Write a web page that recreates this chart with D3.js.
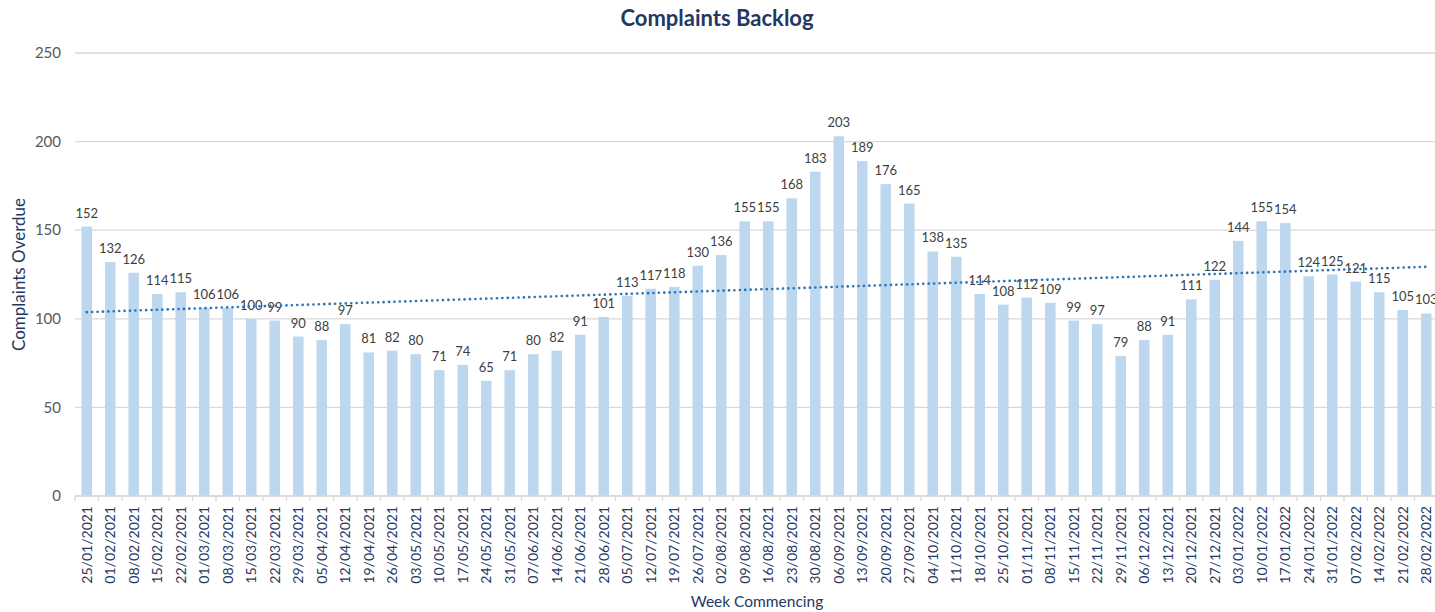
<!DOCTYPE html>
<html>
<head>
<meta charset="utf-8">
<script src="https://cdn.jsdelivr.net/npm/d3@7"></script>
<style>
  body { margin: 0; background: #fff; }
  svg { display: block; font-family: Lato, "Open Sans", sans-serif; }
</style>
</head>
<body>
<div id="chart"></div>
<script>
const weeks = ["25/01/2021","01/02/2021","08/02/2021","15/02/2021","22/02/2021","01/03/2021","08/03/2021","15/03/2021","22/03/2021","29/03/2021","05/04/2021","12/04/2021","19/04/2021","26/04/2021","03/05/2021","10/05/2021","17/05/2021","24/05/2021","31/05/2021","07/06/2021","14/06/2021","21/06/2021","28/06/2021","05/07/2021","12/07/2021","19/07/2021","26/07/2021","02/08/2021","09/08/2021","16/08/2021","23/08/2021","30/08/2021","06/09/2021","13/09/2021","20/09/2021","27/09/2021","04/10/2021","11/10/2021","18/10/2021","25/10/2021","01/11/2021","08/11/2021","15/11/2021","22/11/2021","29/11/2021","06/12/2021","13/12/2021","20/12/2021","27/12/2021","03/01/2022","10/01/2022","17/01/2022","24/01/2022","31/01/2022","07/02/2022","14/02/2022","21/02/2022","28/02/2022"];
const overdue = [152,132,126,114,115,106,106,100,99,90,88,97,81,82,80,71,74,65,71,80,82,91,101,113,117,118,130,136,155,155,168,183,203,189,176,165,138,135,114,108,112,109,99,97,79,88,91,111,122,144,155,154,124,125,121,115,105,103];
const yTicks = [0,50,100,150,200,250];

const width = 1435, height = 612;
const m = {left: 75, right: -3, top: 53, bottom: 116};

const svg = d3.select("#chart").append("svg")
    .attr("width", width)
    .attr("height", height);

const x = d3.scaleBand()
    .domain(weeks)
    .range([m.left, width - m.right])
    .paddingInner(0.55)
    .paddingOuter(0.275);

const y = d3.scaleLinear()
    .domain([0, 250])
    .range([height - m.bottom, m.top]);

// gridlines
svg.selectAll(".grid")
    .data(yTicks)
    .join("line")
    .attr("x1", m.left)
    .attr("x2", width)
    .attr("y1", d => y(d))
    .attr("y2", d => y(d))
    .attr("stroke", "#d9d9d9")
    .attr("stroke-width", 1.3);

// y labels
svg.selectAll(".ylab")
    .data(yTicks)
    .join("text")
    .attr("x", 61)
    .attr("y", d => y(d))
    .attr("dy", "0.35em")
    .attr("text-anchor", "end")
    .attr("fill", "#595959")
    .style("font-size", "15px")
    .text(d => d);

// bars
svg.selectAll(".bar")
    .data(overdue)
    .join("rect")
    .attr("x", (d, i) => x(weeks[i]))
    .attr("width", x.bandwidth())
    .attr("y", d => y(d))
    .attr("height", d => y(0) - y(d))
    .attr("fill", "#bdd7ee");

// x axis
const step = x.step();
const xAxis = svg.append("g").attr("transform", `translate(0,${y(0)})`);
xAxis.append("line")
    .attr("x1", m.left).attr("x2", width)
    .attr("stroke", "#d9d9d9").attr("stroke-width", 1.3);
xAxis.selectAll(".tick")
    .data(d3.range(weeks.length + 1))
    .join("line")
    .attr("x1", i => m.left + i * step)
    .attr("x2", i => m.left + i * step)
    .attr("y1", 0).attr("y2", 5)
    .attr("stroke", "#d9d9d9").attr("stroke-width", 1.3);
xAxis.selectAll(".xlab")
    .data(weeks)
    .join("text")
    .attr("transform", d => `translate(${x(d) + x.bandwidth() / 2},10) rotate(-90)`)
    .attr("dy", "0.35em")
    .attr("text-anchor", "end")
    .attr("fill", "#1f3864")
    .style("font-size", "14px")
    .text(d => d);

// data labels
svg.selectAll(".val")
    .data(overdue)
    .join("text")
    .attr("x", (d, i) => x(weeks[i]) + x.bandwidth() / 2)
    .attr("y", d => y(d) - 9)
    .attr("text-anchor", "middle")
    .attr("fill", "#404040")
    .style("font-size", "13px")
    .text(d => d);

// linear trendline
const idx = d3.range(overdue.length);
const mx = d3.mean(idx), my = d3.mean(overdue);
const slope = d3.sum(idx, i => (i - mx) * (overdue[i] - my)) / d3.sum(idx, i => (i - mx) ** 2);
const icpt = my - slope * mx;
const trend = [0, overdue.length - 1].map(i => [x(weeks[i]) + x.bandwidth() / 2, y(icpt + slope * i)]);
svg.append("path")
    .attr("d", d3.line()(trend))
    .attr("fill", "none")
    .attr("stroke", "#2e75b6")
    .attr("stroke-width", 2.6)
    .attr("stroke-linecap", "round")
    .attr("stroke-dasharray", "0.1 5.3");

// titles
svg.append("text")
    .attr("x", 717).attr("y", 26)
    .attr("text-anchor", "middle")
    .attr("fill", "#1f3864")
    .style("font-size", "22px")
    .style("font-weight", "bold")
    .text("Complaints  Backlog");

svg.append("text")
    .attr("transform", `translate(25,${(y(0) + y(250)) / 2}) rotate(-90)`)
    .attr("text-anchor", "middle")
    .attr("fill", "#1f3864")
    .style("font-size", "17px")
    .text("Complaints Overdue");

svg.append("text")
    .attr("x", 757).attr("y", 607)
    .attr("text-anchor", "middle")
    .attr("fill", "#1f3864")
    .style("font-size", "15.5px")
    .text("Week Commencing");
</script>
</body>
</html>
